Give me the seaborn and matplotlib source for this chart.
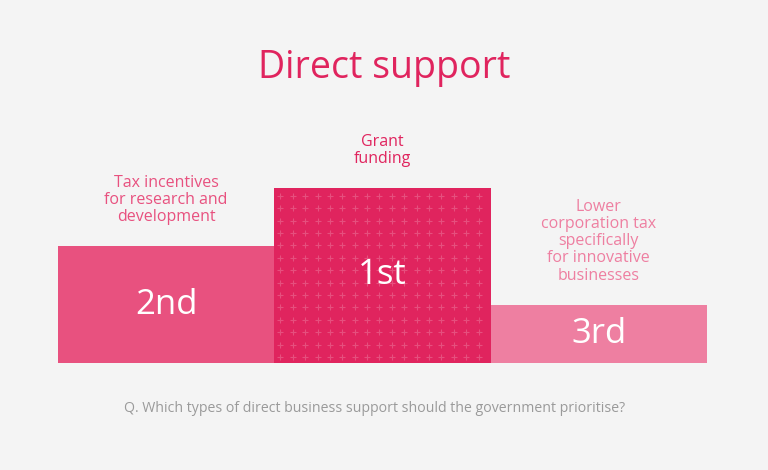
import numpy as np
import pandas as pd
import matplotlib
matplotlib.use("Agg")
import matplotlib.pyplot as plt
import seaborn as sns

# podium data (left to right as drawn)
categories = ["Tax incentives\nfor research and\ndevelopment",
              "Grant\nfunding",
              "Lower\ncorporation tax\nspecifically\nfor innovative\nbusinesses"]
ranks = ["2nd", "1st", "3rd"]
heights = [2, 3, 1]
colors = ["#E8517F", "#E0245E", "#EE7FA1"]

title = "Direct support"
question = "Q. Which types of direct business support should the government prioritise?"

bg = "#F4F4F4"

sns.set_theme(style="white")
plt.rcParams['font.family'] = ['Open Sans', 'DejaVu Sans']

df = pd.DataFrame({"cat": categories, "h": heights, "rank": ranks})

fig = plt.figure(figsize=(7.68, 4.70), dpi=100, facecolor=bg)
ax = fig.add_axes([58/768, 107/470, 649/768, 175/470])
ax.set_facecolor(bg)

sns.barplot(data=df, x="cat", y="h", hue="cat", palette=colors,
            width=1.0, legend=False, ax=ax, linewidth=0, saturation=1)

ax.set_xlim(-0.5, len(categories) - 0.5)
ax.set_ylim(0, max(heights))
ax.axis("off")

# px -> data scale
px_x = 1.0 / 216.5
px_y = max(heights) / 175.0

# plus-sign texture on the winning bar
top = int(np.argmax(heights))
p = ax.patches[top]
x0, w = p.get_x(), p.get_width()
h = p.get_height()
step = 12.4
xs = np.arange(x0 + 6 * px_x, x0 + w, step * px_x)
ys = np.arange(6 * px_y, h, step * px_y)
gx, gy = np.meshgrid(xs, ys)
ax.scatter(gx.ravel(), gy.ravel(), marker="+", s=22, color="white",
           alpha=0.2, linewidths=0.8, zorder=3)

for i, (cat, hv, rk) in enumerate(zip(categories, heights, ranks)):
    ax.text(i, hv / 2, rk, ha="center", va="center", color="white",
            fontsize=25, fontweight="medium", zorder=4)
    ax.text(i, hv + 21 * px_y, cat, ha="center", va="bottom", color=colors[i],
            fontsize=11.5, linespacing=1.1, clip_on=False)

fig.text(0.5, 1 - 68/470, title, ha="center", va="center",
         color="#E0245E", fontsize=27)
fig.text(375/768, 1 - 408/470, question, ha="center", va="center",
         color="#9A9A9A", fontsize=10.2)

fig.savefig("out.png", dpi=100, facecolor=bg)
